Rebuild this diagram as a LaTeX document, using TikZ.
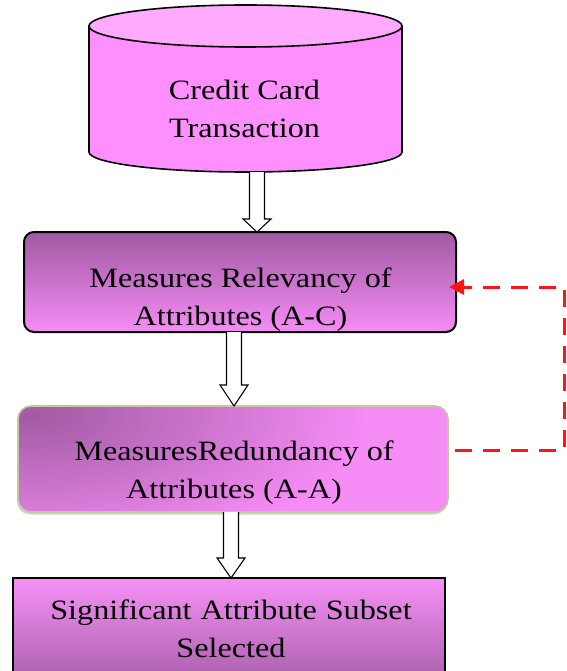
\documentclass[tikz,border=0pt]{standalone}
\usepackage{fontspec}
\setmainfont{Liberation Serif}[FakeStretch=1.15]
\usetikzlibrary{calc,arrows.meta,shadows}
\definecolor{cylbody}{HTML}{FF8EFF}
\definecolor{cyltop}{HTML}{FFAAFF}
\definecolor{boxdark}{HTML}{A05AA2}
\definecolor{boxlight}{HTML}{F68CF6}
\definecolor{oliveedge}{HTML}{C4C99A}
\definecolor{fbred}{HTML}{FF1515}
\newcommand\twolines[2]{\vtop{\halign{\hfil##\hfil\cr #1\cr #2\cr}}}
\newcommand\hollowdown[3]{%
  \draw[blockarrow] let \p1=#1, \p2=#2 in
    (\x1-7.5pt,\y1) -- (\x1-7.5pt,\y2+#3) -- (\x1-14pt,\y2+#3) -- (\x1,\y2)
    -- (\x1+14pt,\y2+#3) -- (\x1+7.5pt,\y2+#3) -- (\x1+7.5pt,\y1);}
\begin{document}
\begin{tikzpicture}[x=1pt,y=-1pt,
  txt/.style={font=\fontsize{28}{38}\selectfont, inner sep=0pt, anchor=base, text=black},
  boxbase/.style={rectangle, inner sep=0pt, outer sep=0pt},
  blockarrow/.style={draw=black, fill=white, line width=1.1pt, line join=miter},
  feedback/.style={draw=fbred, line width=3pt, dash pattern=on 17pt off 11pt,
    -{Triangle[length=15pt,width=15pt]}}]
\clip (0,0) rectangle (566,671);
\fill[white] (0,0) rectangle (566,671);

% cylinder
\node[boxbase, minimum width=313pt, minimum height=167pt] (cyl) at (245.5,88.5) {};
\filldraw[fill=cylbody, draw=black, line width=1.6pt]
  (89,26) -- (89,152) arc[start angle=180, end angle=360, x radius=156.5pt, y radius=20pt]
  -- (402,26) -- cycle;
\filldraw[fill=cyltop, draw=black, line width=1.6pt]
  (245.5,26) ellipse [x radius=156.5pt, y radius=21pt];
\node[txt] (t0) at (244.5,100) {\twolines{Credit Card}{Transaction}};

% box 1
\node[boxbase, minimum width=432pt, minimum height=100pt, rounded corners=10pt,
  draw=black, line width=2pt, top color=boxdark, bottom color=boxlight] (b1) at (240,282) {};
\node[txt] (t1) at (240.5,287) {\twolines{Measures Relevancy of}{Attributes (A-C)}};

% box 2
\node[boxbase, minimum width=430pt, minimum height=106pt, rounded corners=13pt,
  draw=oliveedge, line width=1.6pt, fill=boxlight,
  drop shadow={shadow xshift=-1pt, shadow yshift=-2.5pt, opacity=0.35},
  path picture={%
    \foreach \i in {40,39,...,1}{%
      \pgfmathsetmacro\pct{100-100*\i/40}%
      \fill[boxdark!\pct!boxlight]
        ([xshift=14pt,yshift=-10pt]path picture bounding box.north west)
        ellipse [x radius=8.5*\i pt, y radius=3.6*\i pt];}}]
  (b2) at (233,459) {};
\node[txt] (t2) at (234,460) {\twolines{MeasuresRedundancy of}{Attributes (A-A)}};

% box 3
\node[boxbase, minimum width=432pt, minimum height=116pt,
  draw=black, line width=2.6pt, top color=boxlight!96!white, bottom color=boxdark] (b3) at (229,636) {};
\node[txt] (t3) at (231,619) {\twolines{Significant\hspace{0.32em}Attribute\hspace{0.32em}Subset}{Selected}};

% block arrows
\hollowdown{([xshift=11.5pt]cyl.south)}{(b1.north)}{13pt}
\hollowdown{([xshift=-6pt]b1.south)}{(b2.north)}{21pt}
\hollowdown{([xshift=-2pt]b2.south)}{(b3.north)}{20pt}

% feedback connector
\coordinate (fb) at (564,370);
\draw[feedback] ([xshift=7pt,yshift=9pt]b2.east) -| ([yshift=-5pt]b1.east -| fb)
  -- ([xshift=-7pt,yshift=-5pt]b1.east);
\end{tikzpicture}
\end{document}
